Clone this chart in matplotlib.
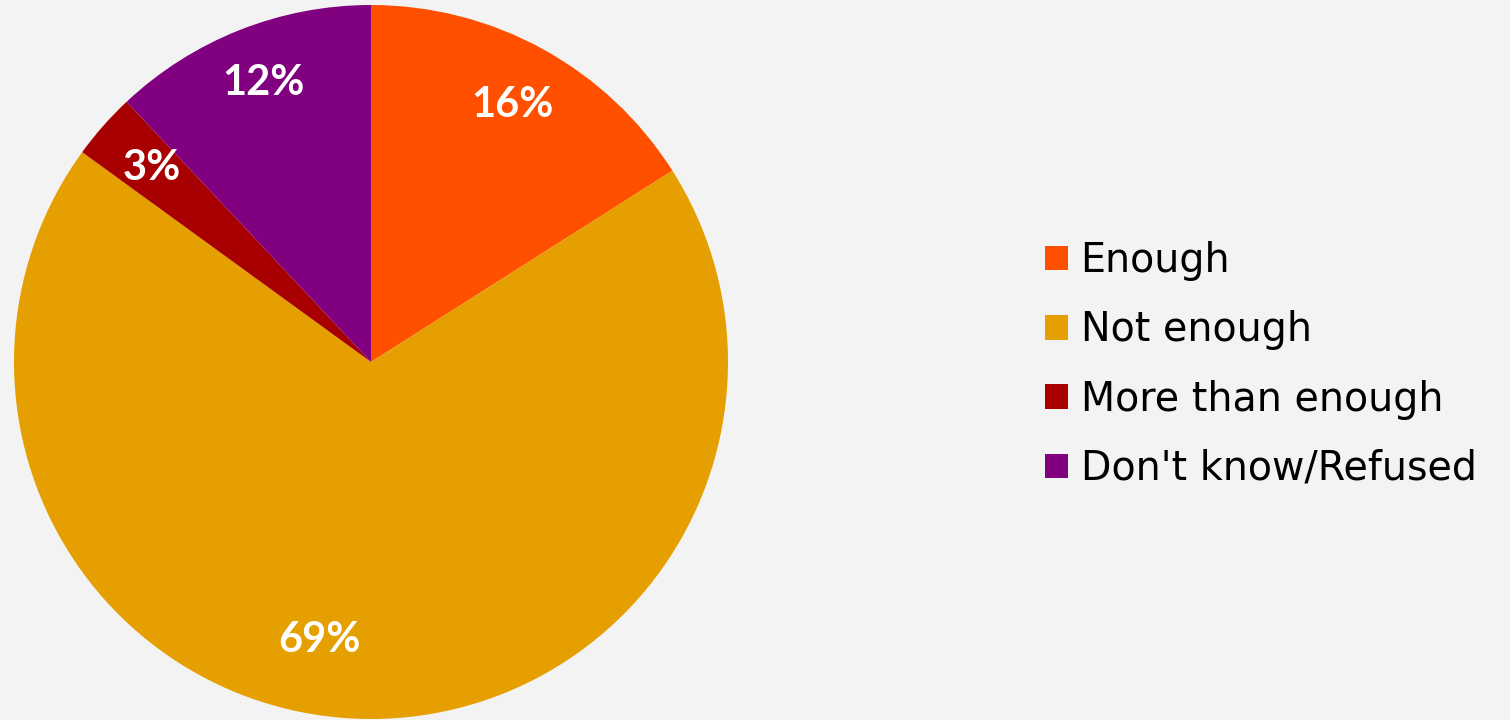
import matplotlib
matplotlib.use("Agg")
import matplotlib.pyplot as plt

categories = ["Enough", "Not enough", "More than enough", "Don't know/Refused"]
values = [16, 69, 3, 12]
colors = ["#FF5000", "#E69F00", "#A80000", "#800080"]

plt.rcParams['font.family'] = ['Lato', 'DejaVu Sans']

fig = plt.figure(figsize=(15.1, 7.2), dpi=100)
fig.patch.set_facecolor("#F3F3F3")

ax = fig.add_axes([14/1510, 1/720, 714/1510, 714/720])
ax.set_facecolor("none")
wedges, texts, autotexts = ax.pie(
    values, colors=colors, startangle=90, counterclock=False,
    autopct=lambda p: f"{p:.0f}%", pctdistance=0.82, radius=1.0,
    wedgeprops=dict(linewidth=0),
    textprops=dict(color="white", fontsize=30, fontweight="bold"))
# nudge labels as in the reference
x, y = autotexts[1].get_position()
autotexts[1].set_position((x - 0.12, y + 0.04))
x, y = autotexts[3].get_position()
autotexts[3].set_position((x, y + 0.02))
ax.set_xlim(-1, 1)
ax.set_ylim(-1, 1)
ax.set_aspect("equal")
ax.axis("off")

leg = fig.legend(wedges, categories, loc="center left",
                 bbox_to_anchor=(1045/1510, 1 - 365/720),
                 frameon=False, prop=dict(family="DejaVu Sans", size=28.5),
                 handlelength=0.58, handleheight=0.58,
                 handletextpad=0.32, labelspacing=0.74, borderpad=0,
                 borderaxespad=0)

fig.savefig("out.png", dpi=100, facecolor=fig.get_facecolor())
